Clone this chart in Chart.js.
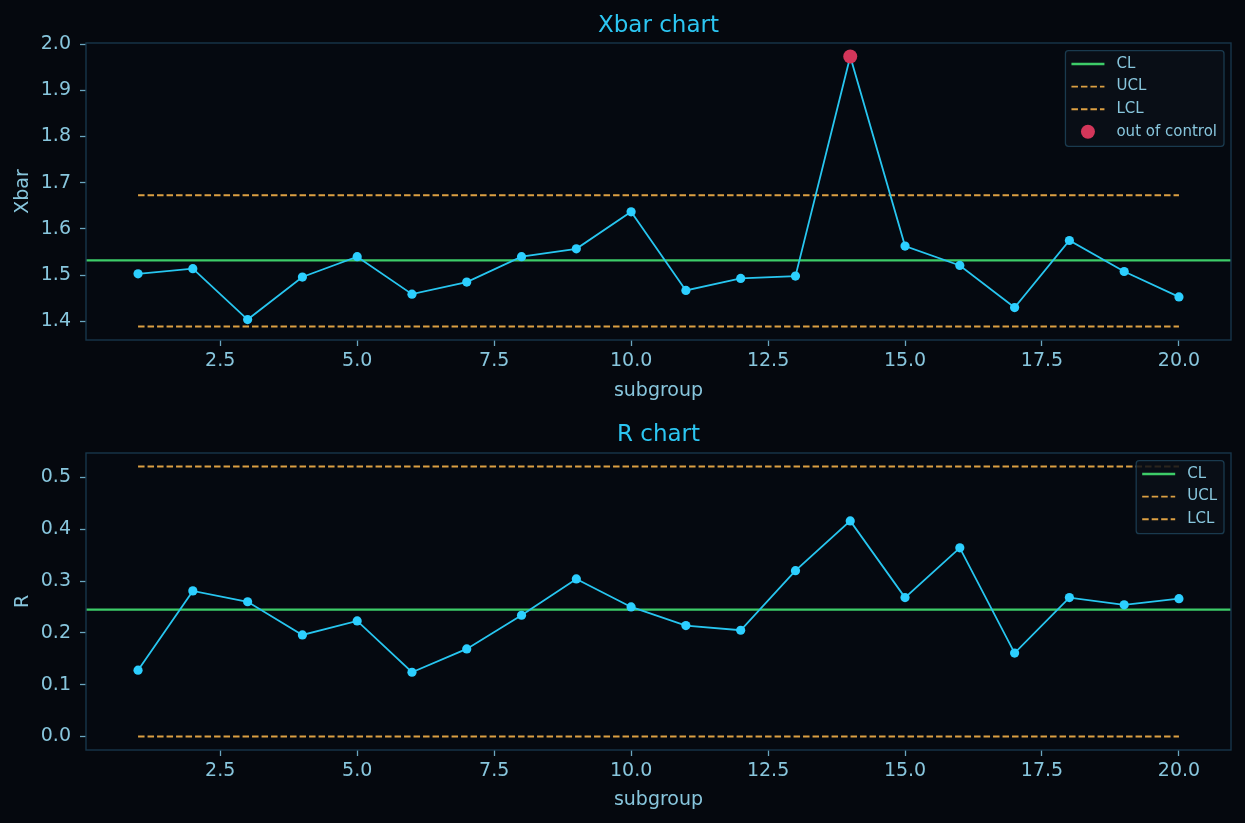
<!DOCTYPE html>
<html>
<head>
<meta charset="utf-8">
<script src="https://cdn.jsdelivr.net/npm/chart.js@4.4.1/dist/chart.umd.min.js"></script>
<style>
    html, body { margin: 0; padding: 0; background: #05080e; }
    body { width: 1245px; height: 823px; position: relative; overflow: hidden; }
    canvas { position: absolute; left: 0; }
    #xbarChart { top: 0; }
    #rChart { top: 411px; }
</style>
</head>
<body>
<canvas id="xbarChart" width="1245" height="411"></canvas>
<canvas id="rChart" width="1245" height="412"></canvas>
<script>
// data
const subgroups = [1, 2, 3, 4, 5, 6, 7, 8, 9, 10, 11, 12, 13, 14, 15, 16, 17, 18, 19, 20];
const xbarValues = [1.503, 1.514, 1.404, 1.496, 1.540, 1.459, 1.485, 1.540, 1.557, 1.637,
                    1.467, 1.493, 1.498, 1.973, 1.563, 1.521, 1.430, 1.575, 1.508, 1.453];
const rValues = [0.128, 0.281, 0.260, 0.196, 0.223, 0.124, 0.169, 0.234, 0.304, 0.250,
                 0.214, 0.205, 0.320, 0.416, 0.268, 0.364, 0.161, 0.268, 0.254, 0.266];
const xbarLimits = [1.389, 1.532, 1.673]; // LCL, CL, UCL
const rLimits = [0.0, 0.245, 0.521];      // LCL, CL, UCL
const xTicks = [2.5, 5.0, 7.5, 10.0, 12.5, 15.0, 17.5, 20.0];
const xbarTicks = [1.4, 1.5, 1.6, 1.7, 1.8, 1.9, 2.0];
const rTicks = [0.0, 0.1, 0.2, 0.3, 0.4, 0.5];

const FONT = '"DejaVu Sans", "Liberation Sans", sans-serif';
const BG = '#05080e';
const AXBG = '#050910';
const SPINE = '#17364a';
const TEXT = '#88c6dd';
const TITLE = '#2cc6f2';
const LINE = '#27c6f0';
const POINT = '#2ccfff';
const GREEN = '#3dcc68';
const ORANGE = '#dca043';
const RED = '#d3365a';

Chart.defaults.font.family = FONT;

// matplotlib style auto limits (5% margin)
function padRange(lo, hi) {
    const m = (hi - lo) * 0.05;
    return [lo - m, hi + m];
}

// background, axes frame and legend box
const framePlugin = {
    id: 'frame',
    beforeDraw(chart) {
        const { ctx, chartArea: a } = chart;
        ctx.save();
        ctx.fillStyle = BG;
        ctx.fillRect(0, 0, chart.width, chart.height);
        ctx.fillStyle = AXBG;
        ctx.fillRect(a.left, a.top, a.right - a.left, a.bottom - a.top);
        ctx.restore();
    },
    afterDraw(chart) {
        const { ctx, chartArea: a } = chart;
        ctx.save();
        ctx.strokeStyle = SPINE;
        ctx.lineWidth = 1.4;
        ctx.strokeRect(a.left, a.top, a.right - a.left, a.bottom - a.top);

        // legend
        const items = chart.data.datasets.filter(d => d.inLegend);
        ctx.font = '15px ' + FONT;
        const textW = Math.max(...items.map(d => ctx.measureText(d.label).width));
        const rowH = 22.6;
        const boxW = 6 + 33 + 12 + textW + 7;
        const boxH = 13.3 + rowH * (items.length - 1) + 14.5;
        const right = a.right - 7;
        const top = a.top + 7.7;
        const left = right - boxW;

        ctx.beginPath();
        ctx.roundRect(left, top, boxW, boxH, 3);
        ctx.fillStyle = 'rgba(11, 15, 23, 0.85)';
        ctx.fill();
        ctx.strokeStyle = '#1a3a4e';
        ctx.lineWidth = 1.3;
        ctx.stroke();

        items.forEach((d, i) => {
            const y = top + 13.3 + i * rowH;
            if (d.showLine === false) {
                ctx.beginPath();
                ctx.arc(left + 6 + 16.5, y, d.pointRadius, 0, Math.PI * 2);
                ctx.fillStyle = d.pointBackgroundColor;
                ctx.fill();
            } else {
                ctx.beginPath();
                ctx.setLineDash(d.borderDash || []);
                ctx.moveTo(left + 6, y);
                ctx.lineTo(left + 6 + 33, y);
                ctx.strokeStyle = d.borderColor;
                ctx.lineWidth = d.borderWidth;
                ctx.stroke();
                ctx.setLineDash([]);
            }
            ctx.fillStyle = TEXT;
            ctx.textBaseline = 'middle';
            ctx.textAlign = 'left';
            ctx.fillText(d.label, left + 6 + 33 + 12, y);
        });
        ctx.restore();
    }
};

function makeChart(id, cfg) {
    const [lcl, cl, ucl] = cfg.limits;
    const [xMin, xMax] = padRange(Math.min(...subgroups), Math.max(...subgroups));
    const [yMin, yMax] = padRange(Math.min(lcl, ...cfg.values), Math.max(ucl, ...cfg.values));
    const first = subgroups[0];
    const last = subgroups[subgroups.length - 1];

    const datasets = [
        {
            label: 'series',
            data: subgroups.map((s, i) => ({ x: s, y: cfg.values[i] })),
            borderColor: LINE,
            borderWidth: 1.8,
            pointRadius: 4.6,
            pointBackgroundColor: POINT,
            pointBorderWidth: 0,
            tension: 0,
            order: 1
        },
        {
            label: 'CL', inLegend: true,
            data: [{ x: xMin, y: cl }, { x: xMax, y: cl }],
            borderColor: GREEN, borderWidth: 2.3, pointRadius: 0, order: 2
        },
        {
            label: 'UCL', inLegend: true,
            data: [{ x: first, y: ucl }, { x: last, y: ucl }],
            borderColor: ORANGE, borderWidth: 1.9, borderDash: [6.5, 3], pointRadius: 0, order: 3
        },
        {
            label: 'LCL', inLegend: true,
            data: [{ x: first, y: lcl }, { x: last, y: lcl }],
            borderColor: ORANGE, borderWidth: 1.9, borderDash: [6.5, 3], pointRadius: 0, order: 4
        }
    ];

    const outPoints = subgroups
        .map((s, i) => ({ x: s, y: cfg.values[i] }))
        .filter(p => p.y > ucl || p.y < lcl);
    if (outPoints.length) {
        datasets.push({
            label: 'out of control', inLegend: true,
            data: outPoints,
            showLine: false,
            pointRadius: 7,
            pointBackgroundColor: RED,
            pointBorderWidth: 0,
            order: 0
        });
    }

    return new Chart(document.getElementById(id), {
        type: 'line',
        data: { datasets },
        plugins: [framePlugin],
        options: {
            responsive: false,
            animation: false,
            events: [],
            layout: { padding: { left: 0, right: 14, top: 0, bottom: 0 } },
            plugins: {
                legend: { display: false },
                tooltip: { enabled: false },
                title: {
                    display: true,
                    text: cfg.title,
                    color: TITLE,
                    fullSize: false,
                    font: { size: 23, weight: 'normal' },
                    padding: { top: cfg.titleTop, bottom: cfg.titleBottom }
                }
            },
            scales: {
                x: {
                    type: 'linear',
                    min: xMin,
                    max: xMax,
                    afterBuildTicks: s => { s.ticks = xTicks.map(v => ({ value: v })); },
                    afterFit: s => { s.height = cfg.xAxisHeight; },
                    ticks: {
                        color: TEXT,
                        font: { size: 19 },
                        padding: 3.5,
                        maxRotation: 0,
                        autoSkip: false,
                        callback: v => v.toFixed(1)
                    },
                    grid: {
                        drawOnChartArea: false,
                        drawTicks: true,
                        tickLength: 6,
                        tickColor: '#6aa6bf',
                        tickWidth: 1.3
                    },
                    border: { display: false },
                    title: {
                        display: true,
                        text: 'subgroup',
                        color: TEXT,
                        font: { size: 19 },
                        padding: { top: 0, bottom: cfg.xTitlePad }
                    }
                },
                y: {
                    type: 'linear',
                    min: yMin,
                    max: yMax,
                    afterBuildTicks: s => { s.ticks = cfg.ticks.map(v => ({ value: v })); },
                    afterFit: s => { s.width = 86; },
                    ticks: {
                        color: TEXT,
                        font: { size: 19 },
                        padding: 9,
                        autoSkip: false,
                        callback: v => v.toFixed(1)
                    },
                    grid: {
                        drawOnChartArea: false,
                        drawTicks: true,
                        tickLength: 6,
                        tickColor: '#6aa6bf',
                        tickWidth: 1.3
                    },
                    border: { display: false },
                    title: {
                        display: true,
                        text: cfg.yLabel,
                        color: TEXT,
                        font: { size: 19 },
                        padding: { top: 11.6, bottom: 0 }
                    }
                }
            }
        }
    });
}

document.addEventListener('DOMContentLoaded', function() {
    makeChart('xbarChart', {
        title: 'Xbar chart', yLabel: 'Xbar',
        values: xbarValues, limits: xbarLimits, ticks: xbarTicks,
        titleTop: 12.2, titleBottom: 3.2, xAxisHeight: 71, xTitlePad: 8.9
    });
    makeChart('rChart', {
        title: 'R chart', yLabel: 'R',
        values: rValues, limits: rLimits, ticks: rTicks,
        titleTop: 10, titleBottom: 4.4, xAxisHeight: 73, xTitlePad: 11.6
    });
});
</script>
</body>
</html>
